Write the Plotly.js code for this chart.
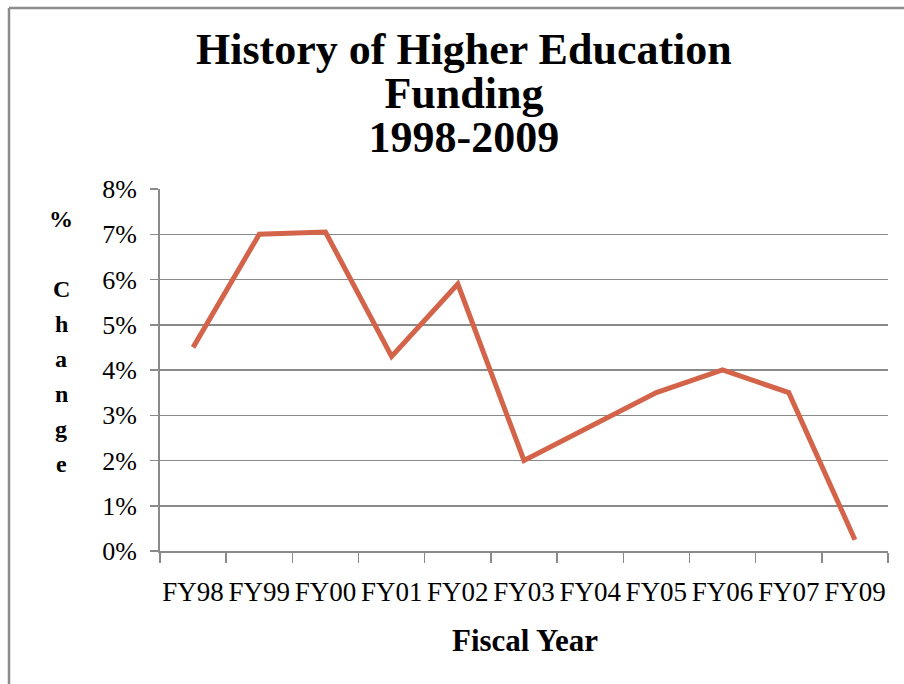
<!DOCTYPE html>
<html>
<head>
<meta charset="utf-8">
<script src="https://cdn.plot.ly/plotly-3.0.1.min.js"></script>
<style>html,body{margin:0;padding:0;background:#fff;}#chart{width:904px;height:684px;}</style>
</head>
<body>
<div id="chart"></div>
<script>
var categories = ["FY98","FY99","FY00","FY01","FY02","FY03","FY04","FY05","FY06","FY07","FY09"];
var pctChange = [4.5, 7.0, 7.05, 4.3, 5.9, 2.0, 2.75, 3.5, 4.0, 3.5, 0.25];
var yTicks = [0,1,2,3,4,5,6,7,8];
var yTickLabels = ["0%","1%","2%","3%","4%","5%","6%","7%","8%"];
var yTitleLetters = ["%","","C","h","a","n","g","e"];
var titleLines = ["History of Higher Education","Funding","1998-2009"];
var xTitleText = "Fiscal Year";

var serif = "Liberation Serif, Times New Roman, serif";
var W = 904, H = 684;
var mL = 160, mR = 16, mT = 189, mB = 133;
var pw = W - mL - mR, ph = H - mT - mB;
function px(x){ return (x - mL) / pw; }
function py(y){ return (H - mB - y) / ph; }

var annotations = [];
annotations.push({
  text: titleLines.map(function(t){ return '<span style="font-size:44px">' + t + '</span>'; }).join("<br>"),
  xref: "paper", yref: "paper",
  x: px(464), y: py(94), xanchor: "center", yanchor: "middle",
  showarrow: false, font: {family: serif, size: 34, color: "#000", weight: "bold"}
});
yTitleLetters.forEach(function(ch, i){
  if (!ch) return;
  annotations.push({
    text: ch, xref: "paper", yref: "paper",
    x: px(61), y: py(219 + i * 35), xanchor: "center", yanchor: "middle",
    showarrow: false, font: {family: serif, size: 24, color: "#000", weight: "bold"}
  });
});
annotations.push({
  text: xTitleText, xref: "paper", yref: "paper",
  x: px(525), y: py(640), xanchor: "center", yanchor: "middle",
  showarrow: false, font: {family: serif, size: 31, color: "#000", weight: "bold"}
});

var trace = {
  x: categories, y: pctChange, type: "scatter", mode: "lines",
  line: {color: "#D3644A", width: 5},
  hoverinfo: "x+y"
};

var layout = {
  width: W, height: H,
  margin: {l: mL, r: mR, t: mT, b: mB, pad: 0},
  paper_bgcolor: "#fff", plot_bgcolor: "#fff",
  showlegend: false,
  xaxis: {
    type: "category", range: [-0.5, 10.5],
    tickson: "boundaries", ticks: "outside", ticklen: 10, tickwidth: 1.5, tickcolor: "#8a8a8a",
    showline: true, linecolor: "#8a8a8a", linewidth: 2,
    showgrid: false, zeroline: false,
    tickangle: 0, automargin: false,
    ticklabelstandoff: 16,
    tickfont: {family: serif, size: 27, color: "#000"}
  },
  yaxis: {
    range: [0, 8], tickvals: yTicks, ticktext: yTickLabels,
    ticks: "outside", ticklen: 8, tickwidth: 1.5, tickcolor: "#8a8a8a",
    showline: true, linecolor: "#8a8a8a", linewidth: 2,
    showgrid: true, gridcolor: "#8a8a8a", gridwidth: 1.5, zeroline: false,
    ticklabelstandoff: 8, automargin: false,
    tickfont: {family: serif, size: 26, color: "#000"}
  },
  annotations: annotations,
  shapes: [
    {type: "line", xref: "paper", yref: "paper", x0: px(9), x1: px(904), y0: py(8), y1: py(8), line: {color: "#8c8c8c", width: 2.5}},
    {type: "line", xref: "paper", yref: "paper", x0: px(9), x1: px(9), y0: py(8), y1: py(684), line: {color: "#8c8c8c", width: 2.5}}
  ]
};

Plotly.newPlot("chart", [trace], layout, {displayModeBar: false, staticPlot: true});
</script>
</body>
</html>
